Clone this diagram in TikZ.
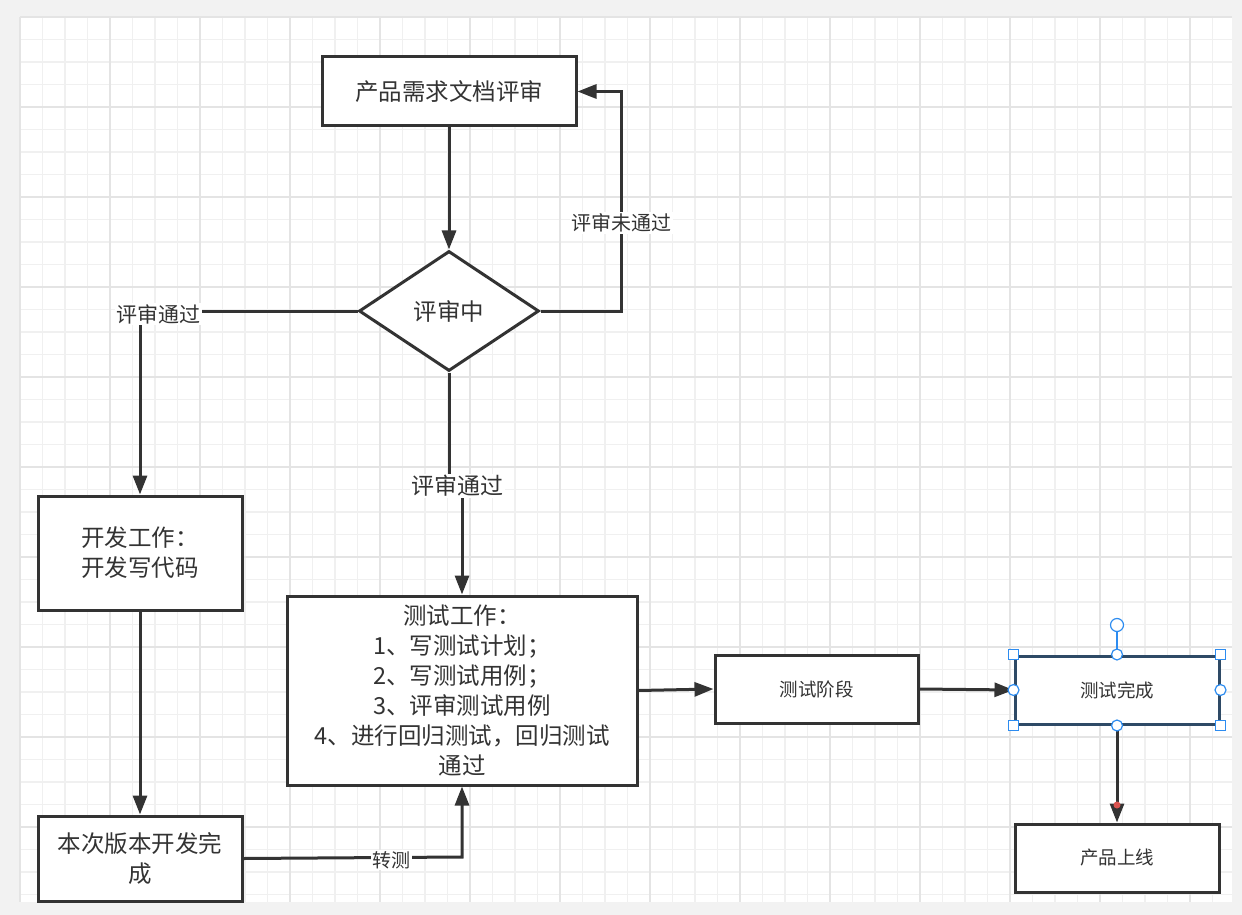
\documentclass[tikz,border=0pt]{standalone}
\usepackage{fontspec}
\newfontfamily\cjk{Noto Sans CJK SC}
\usetikzlibrary{arrows.meta,shapes.geometric}
\definecolor{ink}{HTML}{333333}
\definecolor{pagebg}{HTML}{F2F2F2}
\definecolor{gridminor}{HTML}{F0F0F0}
\definecolor{gridmajor}{HTML}{E4E4E4}
\definecolor{selblue}{HTML}{2D8CF0}
\definecolor{selborder}{HTML}{2E4A66}
\definecolor{reddot}{HTML}{D9534F}
\begin{document}
\begin{tikzpicture}[x=1pt,y=-1pt,
  box/.style={draw=ink, line width=3pt, fill=white, inner sep=0pt, text=ink, align=center,
    font=\cjk\fontsize{23.5}{30}\selectfont},
  smallbox/.style={box, font=\cjk\fontsize{18.5}{24}\selectfont},
  conn/.style={draw=ink, line width=3pt, -{Triangle[length=19pt,width=14pt]}},
  lbl/.style={fill=white, inner sep=1.5pt, text=ink},
  minorline/.style={draw=gridminor, line width=1.2pt},
  majorline/.style={draw=gridmajor, line width=1.4pt},
  handlesq/.style={draw=selblue, fill=white, line width=1.2pt, minimum size=10pt, inner sep=0pt, rectangle},
  handlecirc/.style={draw=selblue, fill=white, line width=1.2pt, minimum size=11pt, inner sep=0pt, circle}]
\useasboundingbox (0,0) rectangle (1242,915);
\fill[pagebg] (0,0) rectangle (1242,915);
\fill[white] (20,17) rectangle (1232,902);
\foreach \i in {0,...,53} \draw[minorline] ({20+22.5*\i},17) -- ({20+22.5*\i},902);
\foreach \i in {0,...,39} \draw[minorline] (20,{17+22.5*\i}) -- (1232,{17+22.5*\i});
\foreach \i in {0,...,13} \draw[majorline] ({20+90*\i},17) -- ({20+90*\i},902);
\foreach \i in {0,...,9} \draw[majorline] (20,{17+90*\i}) -- (1232,{17+90*\i});

% nodes
\node[box, minimum width=254pt, minimum height=69pt] (prd) at (449,91.5) {产品需求文档评审};
\node[box, diamond, minimum width=180pt, minimum height=120pt] (review) at (449,311) {评审中};
\node[box, minimum width=204pt, minimum height=114pt] (dev) at (140,553) {开发工作：\\开发写代码};
\node[box, minimum width=204pt, minimum height=85pt] (devdone) at (140,858.5) {本次版本开发完\\成};
\node[box, minimum width=350pt, minimum height=189pt] (test) at (462,690.5)
  {测试工作：\\1、写测试计划；\\2、写测试用例；\\3、评审测试用例\\4、进行回归测试，回归测试\\通过};
\node[smallbox, minimum width=203pt, minimum height=68pt] (stage) at (816.5,689) {测试阶段};
\node[smallbox, draw=selborder, minimum width=204pt, minimum height=68pt] (done) at (1117,690) {测试完成};
\node[smallbox, minimum width=204pt, minimum height=68pt] (online) at (1117,858) {产品上线};

% bend coordinates
\coordinate (rj1) at (621,311);
\coordinate (lj1) at (140,311);
\coordinate (bj1) at (449,486);
\coordinate (bj2) at (462,486);
\coordinate (tj1) at (462,857);

% connectors
\draw[conn] (prd) -- (review);
\draw[conn] (review.east) -- (rj1) |- (prd.east);
\draw[conn] (review.west) -- (lj1) -- (dev.north);
\draw[conn] (review.south) -- (bj1) -- (bj2) -- (test.north);
\draw[conn] (dev) -- (devdone);
\draw[conn] (devdone.east) -- (tj1) -- (test.south);
\draw[conn] (test.east) -- (stage.west);
\draw[conn] (stage.east) -- (done.west);
\draw[conn] (done) -- (online);

% labels
\node[lbl, font=\cjk\fontsize{20}{24}\selectfont] (lnopass) at (621,223) {评审未通过};
\node[lbl, font=\cjk\fontsize{21}{24}\selectfont] (lpassl) at (158,314) {评审通过};
\node[lbl, font=\cjk\fontsize{23}{26}\selectfont] (lpassb) at (457,486) {评审通过};
\node[lbl, font=\cjk\fontsize{19}{22}\selectfont] (lzc) at (391,860) {转测};

% selection handles on 测试完成
\coordinate (rot) at (1117,625);
\draw[selblue, line width=1.5pt] (rot) -- (done.north);
\node[handlecirc, minimum size=13pt] (hrot) at (rot) {};
\node[handlesq] (h1) at (done.north west) {};
\node[handlesq] (h2) at (done.north east) {};
\node[handlesq] (h3) at (done.south west) {};
\node[handlesq] (h4) at (done.south east) {};
\node[handlecirc] (h5) at (done.north) {};
\node[handlecirc] (h6) at (done.south) {};
\node[handlecirc] (h7) at (done.west) {};
\node[handlecirc] (h8) at (done.east) {};
\fill[reddot] (1117,805) circle (3.5pt);
\end{tikzpicture}
\end{document}
